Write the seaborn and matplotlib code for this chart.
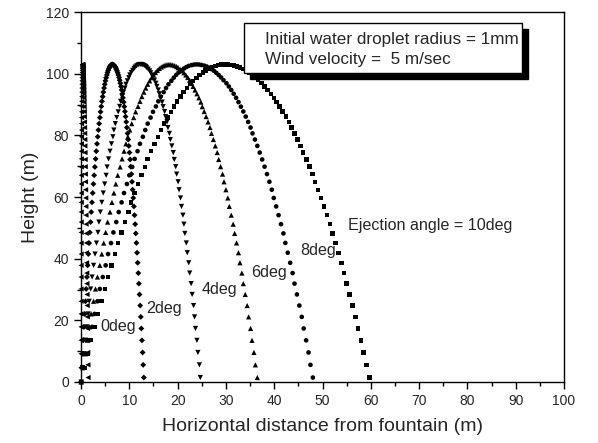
import numpy as np
import pandas as pd
import matplotlib
matplotlib.use("Agg")
import matplotlib.pyplot as plt
from matplotlib.patches import Rectangle
from matplotlib.ticker import MultipleLocator
import seaborn as sns

# height of the droplet at each time step (same for every ejection angle)
height_m = [0.0, 4.63, 9.15, 13.57, 17.88, 22.08, 26.18, 30.17, 34.05, 37.83,
            41.50, 45.06, 48.52, 51.87, 55.12, 58.26, 61.29, 64.22, 67.04, 69.75,
            72.36, 74.86, 77.25, 79.54, 81.72, 83.79, 85.76, 87.62, 89.38, 91.03,
            92.57, 94.01, 95.34, 96.56, 97.68, 98.69, 99.60, 100.39, 101.08, 101.67,
            102.15, 102.52, 102.79, 102.95, 103.0,
            102.96, 102.83, 102.62, 102.32, 101.94, 101.48, 100.93, 100.29, 99.57, 98.77,
            97.88, 96.91, 95.85, 94.71, 93.48, 92.17, 90.78, 89.30, 87.73, 86.08,
            84.35, 82.53, 80.63, 78.64, 76.57, 74.41, 72.17, 69.84, 67.43, 64.94,
            62.36, 59.69, 56.94, 54.11, 51.19, 48.19, 45.10, 41.93, 38.67, 35.33,
            31.91, 28.40, 24.80, 21.12, 17.36, 13.51, 9.58, 5.56, 1.45]

x_0deg = [0.00, 0.00, 0.00, 0.00, 0.00, 0.00, 0.01, 0.01, 0.01, 0.01,
          0.02, 0.02, 0.02, 0.03, 0.03, 0.04, 0.04, 0.05, 0.05, 0.06,
          0.07, 0.07, 0.08, 0.09, 0.10, 0.10, 0.11, 0.12, 0.13, 0.14,
          0.15, 0.16, 0.17, 0.18, 0.19, 0.21, 0.22, 0.23, 0.24, 0.26,
          0.27, 0.28, 0.30, 0.31, 0.32, 0.34, 0.35, 0.37, 0.39, 0.40,
          0.42, 0.44, 0.45, 0.47, 0.49, 0.51, 0.53, 0.54, 0.56, 0.58,
          0.60, 0.62, 0.64, 0.67, 0.69, 0.71, 0.73, 0.75, 0.78, 0.80,
          0.82, 0.85, 0.87, 0.89, 0.92, 0.94, 0.97, 0.99, 1.02, 1.05,
          1.07, 1.10, 1.13, 1.15, 1.18, 1.21, 1.24, 1.27, 1.30, 1.33,
          1.36, 1.39, 1.42, 1.45]

x_2deg = [0.00, 0.15, 0.31, 0.46, 0.61, 0.77, 0.92, 1.07, 1.22, 1.37,
          1.52, 1.67, 1.82, 1.97, 2.12, 2.27, 2.42, 2.57, 2.72, 2.87,
          3.02, 3.16, 3.31, 3.46, 3.60, 3.75, 3.90, 4.04, 4.19, 4.33,
          4.48, 4.62, 4.77, 4.91, 5.05, 5.20, 5.34, 5.48, 5.63, 5.77,
          5.91, 6.05, 6.19, 6.33, 6.47, 6.61, 6.76, 6.89, 7.03, 7.17,
          7.31, 7.45, 7.59, 7.73, 7.87, 8.00, 8.14, 8.28, 8.41, 8.55,
          8.68, 8.82, 8.96, 9.09, 9.23, 9.36, 9.49, 9.63, 9.76, 9.89,
          10.03, 10.16, 10.29, 10.42, 10.56, 10.69, 10.82, 10.95, 11.08, 11.21,
          11.34, 11.47, 11.60, 11.73, 11.86, 11.98, 12.11, 12.24, 12.37, 12.49,
          12.62, 12.75, 12.87, 13.00]

x_4deg = [0.0, 0.3, 0.6, 0.9, 1.2, 1.5, 1.7, 2.0, 2.3, 2.6,
          2.9, 3.2, 3.5, 3.7, 4.0, 4.3, 4.6, 4.9, 5.2, 5.4,
          5.7, 6.0, 6.3, 6.6, 6.8, 7.1, 7.4, 7.7, 8.0, 8.2,
          8.5, 8.8, 9.1, 9.3, 9.6, 9.9, 10.1, 10.4, 10.7, 11.0,
          11.2, 11.5, 11.8, 12.0, 12.3, 12.6, 12.8, 13.1, 13.4, 13.6,
          13.9, 14.2, 14.4, 14.7, 14.9, 15.2, 15.5, 15.7, 16.0, 16.2,
          16.5, 16.8, 17.0, 17.3, 17.5, 17.8, 18.0, 18.3, 18.5, 18.8,
          19.1, 19.3, 19.6, 19.8, 20.1, 20.3, 20.6, 20.8, 21.1, 21.3,
          21.5, 21.8, 22.0, 22.3, 22.5, 22.8, 23.0, 23.3, 23.5, 23.7,
          24.0, 24.2, 24.5, 24.7]

x_6deg = [0.0, 0.4, 0.9, 1.3, 1.7, 2.1, 2.6, 3.0, 3.4, 3.9,
          4.3, 4.7, 5.1, 5.5, 6.0, 6.4, 6.8, 7.2, 7.6, 8.1,
          8.5, 8.9, 9.3, 9.7, 10.1, 10.5, 10.9, 11.3, 11.8, 12.2,
          12.6, 13.0, 13.4, 13.8, 14.2, 14.6, 15.0, 15.4, 15.8, 16.2,
          16.6, 17.0, 17.4, 17.8, 18.2, 18.6, 19.0, 19.4, 19.8, 20.1,
          20.5, 20.9, 21.3, 21.7, 22.1, 22.5, 22.9, 23.2, 23.6, 24.0,
          24.4, 24.8, 25.1, 25.5, 25.9, 26.3, 26.7, 27.0, 27.4, 27.8,
          28.2, 28.5, 28.9, 29.3, 29.6, 30.0, 30.4, 30.7, 31.1, 31.5,
          31.8, 32.2, 32.6, 32.9, 33.3, 33.6, 34.0, 34.4, 34.7, 35.1,
          35.4, 35.8, 36.1, 36.5]

x_8deg = [0.0, 0.6, 1.1, 1.7, 2.3, 2.8, 3.4, 3.9, 4.5, 5.1,
          5.6, 6.2, 6.7, 7.3, 7.8, 8.4, 8.9, 9.5, 10.0, 10.6,
          11.1, 11.7, 12.2, 12.8, 13.3, 13.8, 14.4, 14.9, 15.5, 16.0,
          16.5, 17.1, 17.6, 18.1, 18.7, 19.2, 19.7, 20.2, 20.8, 21.3,
          21.8, 22.3, 22.9, 23.4, 23.9, 24.4, 24.9, 25.5, 26.0, 26.5,
          27.0, 27.5, 28.0, 28.5, 29.0, 29.5, 30.1, 30.6, 31.1, 31.6,
          32.1, 32.6, 33.1, 33.6, 34.1, 34.6, 35.1, 35.5, 36.0, 36.5,
          37.0, 37.5, 38.0, 38.5, 39.0, 39.5, 39.9, 40.4, 40.9, 41.4,
          41.9, 42.3, 42.8, 43.3, 43.8, 44.2, 44.7, 45.2, 45.7, 46.1,
          46.6, 47.1, 47.5, 48.0]

x_10deg = [0.0, 0.7, 1.4, 2.1, 2.8, 3.5, 4.2, 4.9, 5.6, 6.3,
           7.0, 7.7, 8.4, 9.1, 9.8, 10.4, 11.1, 11.8, 12.5, 13.2,
           13.8, 14.5, 15.2, 15.9, 16.5, 17.2, 17.9, 18.6, 19.2, 19.9,
           20.6, 21.2, 21.9, 22.6, 23.2, 23.9, 24.5, 25.2, 25.8, 26.5,
           27.1, 27.8, 28.4, 29.1, 29.7, 30.4, 31.0, 31.7, 32.3, 32.9,
           33.6, 34.2, 34.9, 35.5, 36.1, 36.7, 37.4, 38.0, 38.6, 39.3,
           39.9, 40.5, 41.1, 41.7, 42.4, 43.0, 43.6, 44.2, 44.8, 45.4,
           46.0, 46.7, 47.3, 47.9, 48.5, 49.1, 49.7, 50.3, 50.9, 51.5,
           52.1, 52.7, 53.3, 53.9, 54.4, 55.0, 55.6, 56.2, 56.8, 57.4,
           58.0, 58.5, 59.1, 59.7]

angles = ["0deg", "2deg", "4deg", "6deg", "8deg", "10deg"]
x_series = [x_0deg, x_2deg, x_4deg, x_6deg, x_8deg, x_10deg]
markers = {"0deg": "<", "2deg": "D", "4deg": "v", "6deg": "^", "8deg": "o", "10deg": "s"}
sizes = {"0deg": 14, "2deg": 9, "4deg": 14, "6deg": 14, "8deg": 11, "10deg": 10}

label_text = ["0deg", "2deg", "4deg", "6deg", "8deg", "Ejection angle = 10deg"]
label_x = [4.0, 13.6, 25.0, 35.3, 45.3, 55.3]
label_y = [18.0, 24.0, 30.0, 35.6, 42.8, 50.8]

sns.set_style("ticks")
plt.rcParams['font.family'] = ['Liberation Sans', 'DejaVu Sans']

fig = plt.figure(figsize=(5.98, 4.43), dpi=100)
ax = fig.add_axes([0.1355, 0.1377, 0.8077, 0.8352])

for name, xs in zip(angles, x_series):
    df = pd.DataFrame({"x": xs, "y": height_m})
    sns.scatterplot(data=df, x="x", y="y", marker=markers[name], s=sizes[name],
                    color="black", edgecolor="none", linewidth=0, ax=ax,
                    clip_on=False, zorder=3)

for t, lx, ly in zip(label_text, label_x, label_y):
    ax.text(lx, ly, t, fontsize=11.6, ha="left", va="center")

ax.set_xlim(0, 100)
ax.set_ylim(0, 120)
ax.xaxis.set_major_locator(MultipleLocator(10))
ax.xaxis.set_minor_locator(MultipleLocator(5))
ax.yaxis.set_major_locator(MultipleLocator(20))
ax.yaxis.set_minor_locator(MultipleLocator(10))
ax.tick_params(which="both", direction="out", top=False, right=False,
               labelsize=10, width=1, color="black")
ax.tick_params(which="major", length=5)
ax.tick_params(which="minor", length=3)
for sp in ax.spines.values():
    sp.set_visible(True)
    sp.set_linewidth(1)
    sp.set_color("black")

ax.set_xlabel("Horizontal distance from fountain (m)", fontsize=14, labelpad=7)
ax.set_ylabel("Height (m)", fontsize=14, labelpad=5)

# info box with drop shadow
shadow = Rectangle((0.418, 0.822), 0.465, 0.113, transform=fig.transFigure,
                   facecolor="black", edgecolor="black", zorder=5)
box = Rectangle((0.408, 0.835), 0.465, 0.113, transform=fig.transFigure,
                facecolor="white", edgecolor="black", linewidth=1, zorder=6)
fig.patches.extend([shadow, box])
fig.text(0.443, 0.910, "Initial water droplet radius = 1mm", fontsize=12.3,
         ha="left", va="center", zorder=7)
fig.text(0.443, 0.866, "Wind velocity =  5 m/sec", fontsize=12.3,
         ha="left", va="center", zorder=7)

fig.savefig("out.png", dpi=100)
